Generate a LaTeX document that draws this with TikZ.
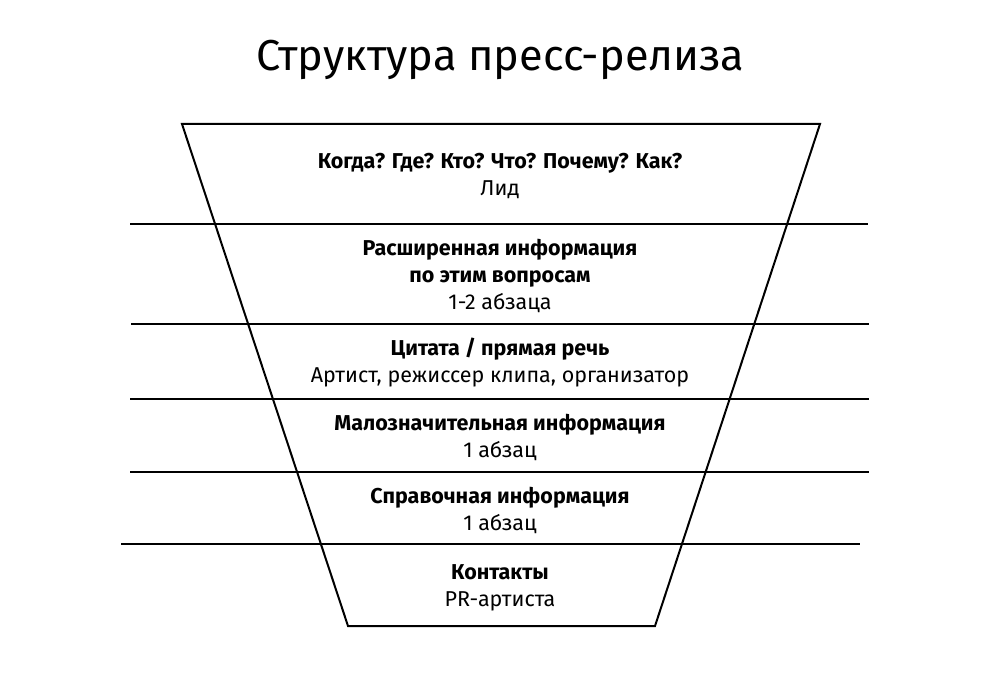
\documentclass[tikz,border=0pt]{standalone}
\usepackage{fontspec}
\setmainfont{Fira Sans}
\usetikzlibrary{positioning}

\begin{document}
\begin{tikzpicture}[
  x=1pt, y=-1pt,
  band/.style={align=center, inner sep=0pt, font=\fontsize{21.5}{27}\selectfont},
  title/.style={inner sep=0pt, font=\fontsize{43.3}{46}\selectfont},
  funnel/.style={line width=2pt, line join=miter},
  rule/.style={line width=1.2pt}
]
\useasboundingbox (0,0) rectangle (1000,700);

% title
\node[title] (title) at (500,60) {Структура пресс-релиза};

% separating rules
\draw[rule] (130,224) -- (868,224);
\draw[rule] (131,324) -- (869,324);
\draw[rule] (130,399) -- (869,399);
\draw[rule] (130,472) -- (869,472);
\draw[rule] (121,544) -- (860,544);

% funnel outline
\draw[funnel] (182,124) -- (820,124) -- (655,626) -- (348,626) -- cycle;

% bands
\node[band] (lead) at (500,176) {\textbf{Когда? Где? Кто? Что? Почему? Как?}\\Лид};
\node[band] (details) at (500,276) {\textbf{Расширенная информация}\\\textbf{по этим вопросам}\\1-2 абзаца};
\node[band] (quote) at (500,363) {\textbf{Цитата / прямая речь}\\Артист, режиссер клипа, организатор};
\node[band] (minor) at (500,437) {\textbf{Малозначительная информация}\\1 абзац};
\node[band] (reference) at (500,510) {\textbf{Справочная информация}\\1 абзац};
\node[band] (contacts) at (500,588) {\textbf{Контакты}\\PR-артиста};

\end{tikzpicture}
\end{document}
